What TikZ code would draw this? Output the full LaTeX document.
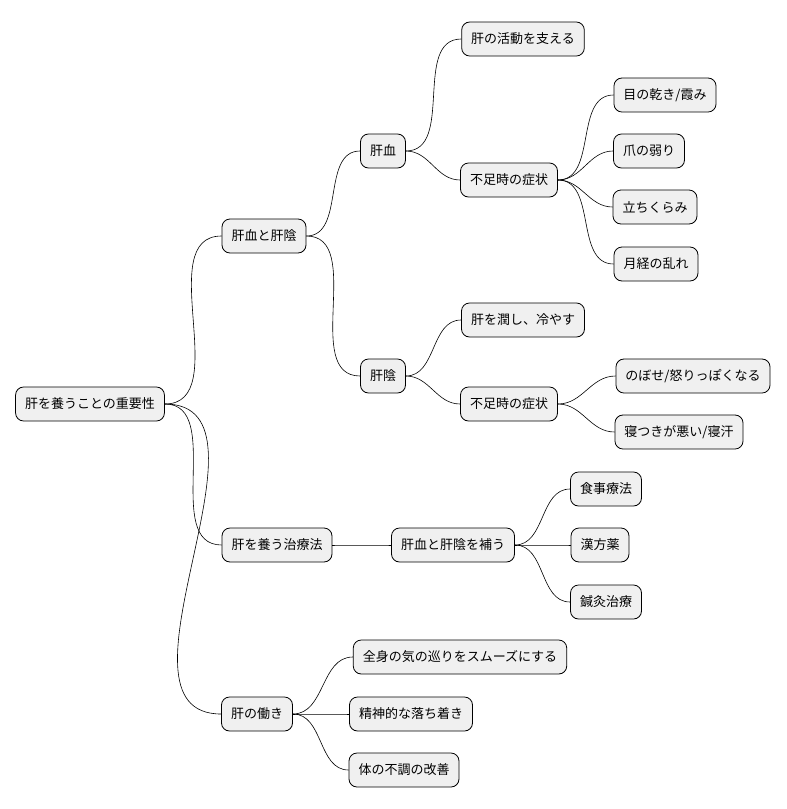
\documentclass[tikz,border=0pt]{standalone}
\usepackage{fontspec}
\setmainfont{Noto Sans CJK JP}
\begin{document}
\begin{tikzpicture}[x=1pt,y=-1pt,
 n/.style={draw=black,line width=0.8pt,fill=black!6,rounded corners=8pt,minimum height=34pt,inner xsep=9.5pt,font=\fontsize{13}{15}\selectfont},
 e/.style={draw=black,line width=0.6pt}]
\useasboundingbox (0,0) rectangle (787,809);
\node[n] (r) at (90,404) {肝を養うことの重要性};
\node[n] (a) at (264,236) {肝血と肝陰};
\node[n] (a1) at (383,151) {肝血};
\node[n] (a11) at (523,39) {肝の活動を支える};
\node[n] (a12) at (509,180) {不足時の症状};
\node[n] (s1) at (665,95) {目の乾き/霞み};
\node[n] (s2) at (649,151) {爪の弱り};
\node[n] (s3) at (655,207) {立ちくらみ};
\node[n] (s4) at (656,264) {月経の乱れ};
\node[n] (a2) at (383,376) {肝陰};
\node[n] (a21) at (523,320) {肝を潤し、冷やす};
\node[n] (a22) at (509,404) {不足時の症状};
\node[n] (t1) at (693,376) {のぼせ/怒りっぽくなる};
\node[n] (t2) at (679,432) {寝つきが悪い/寝汗};
\node[n] (b) at (277,545) {肝を養う治療法};
\node[n] (b1) at (453,545) {肝血と肝陰を補う};
\node[n] (u1) at (606,489) {食事療法};
\node[n] (u2) at (600,545) {漢方薬};
\node[n] (u3) at (606,602) {鍼灸治療};
\node[n] (c) at (257,714) {肝の働き};
\node[n] (c1) at (460,657) {全身の気の巡りをスムーズにする};
\node[n] (c2) at (411,714) {精神的な落ち着き};
\node[n] (c3) at (404,770) {体の不調の改善};
\foreach \p/\c in {r/a,r/b,r/c,a/a1,a/a2,a1/a11,a1/a12,a12/s1,a12/s2,a12/s3,a12/s4,a2/a21,a2/a22,a22/t1,a22/t2,b/b1,b1/u1,b1/u2,b1/u3,c/c1,c/c2,c/c3}
  \draw[e] (\p.east) to[out=0,in=180] (\c.west);
\end{tikzpicture}
\end{document}
